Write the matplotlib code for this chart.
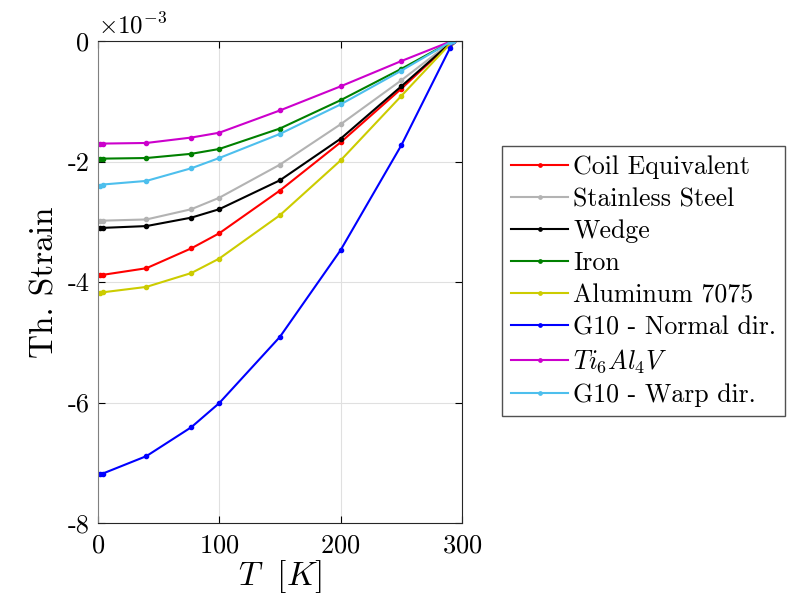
import matplotlib
matplotlib.use("Agg")
import matplotlib.pyplot as plt

plt.rcParams['font.family'] = 'serif'
plt.rcParams['font.serif'] = ['cmr10']
plt.rcParams['mathtext.fontset'] = 'cm'
plt.rcParams['axes.unicode_minus'] = False
plt.rcParams['axes.formatter.use_mathtext'] = True

# temperatura (K)
T = [2, 4, 40, 77, 100, 150, 200, 250, 290, 293]

# deformacao termica (x 1e-3)
coil = [-3.89, -3.88, -3.77, -3.44, -3.19, -2.48, -1.68, -0.79, -0.04, 0.0]
inox = [-2.99, -2.98, -2.96, -2.79, -2.60, -2.05, -1.38, -0.65, -0.03, 0.0]
wedge = [-3.11, -3.10, -3.07, -2.93, -2.79, -2.31, -1.62, -0.75, -0.04, 0.0]
ferro = [-1.95, -1.95, -1.94, -1.87, -1.79, -1.45, -0.98, -0.46, -0.02, 0.0]
alu = [-4.18, -4.17, -4.08, -3.85, -3.61, -2.89, -1.98, -0.91, -0.05, 0.0]
g10n = [-7.18, -7.18, -6.89, -6.41, -6.01, -4.91, -3.47, -1.73, -0.12, 0.0]
titanio = [-1.71, -1.70, -1.69, -1.60, -1.52, -1.15, -0.75, -0.33, -0.01, 0.0]
g10w = [-2.40, -2.38, -2.32, -2.11, -1.94, -1.54, -1.05, -0.49, -0.02, 0.0]

series = [
    (coil, 'Coil Equivalent', (1, 0, 0)),
    (inox, 'Stainless Steel', (0.7, 0.7, 0.7)),
    (wedge, 'Wedge', (0, 0, 0)),
    (ferro, 'Iron', (0, 0.5, 0)),
    (alu, 'Aluminum 7075', (0.8, 0.8, 0)),
    (g10n, 'G10 - Normal dir.', (0, 0, 1)),
    (titanio, r'$Ti_6Al_4V$', (0.8, 0, 0.8)),
    (g10w, 'G10 - Warp dir.', (0.3, 0.75, 0.93)),
]

fig = plt.figure(figsize=(8.02, 5.97), dpi=100)
ax = fig.add_axes([0.122, 0.124, 0.454, 0.807])

for dados, nome, cor in series:
    ax.plot(T, dados, '.-', color=cor, label=nome, linewidth=1.5, markersize=6)

ax.set_xlim(0, 300)
ax.set_ylim(-8, 0)
ax.set_xticks([0, 100, 200, 300])
ax.set_yticks([-8, -6, -4, -2, 0])
ax.set_yticklabels(['-8', '-6', '-4', '-2', '0'])
ax.grid(True, color=(0.88, 0.88, 0.88), linewidth=0.8)
ax.set_axisbelow(True)
ax.tick_params(direction='in', top=True, right=True, labelsize=19, length=5)
ax.tick_params(axis='x', pad=8)
ax.tick_params(axis='y', pad=6)
for s in ax.spines.values():
    s.set_color((0.15, 0.15, 0.15))
    s.set_linewidth(0.8)
ax.spines['left'].set_color((0.5, 0.5, 0.5))

ax.set_xlabel(r'$T\ \ [K]$', fontsize=24, labelpad=0)
ax.set_ylabel('Th. Strain', fontsize=24, labelpad=6)
ax.text(0.0, 1.005, r'$\times 10^{-3}$', transform=ax.transAxes,
        fontsize=18, ha='left', va='bottom')

fig.legend(loc='center left', bbox_to_anchor=(0.626, 0.529), fontsize=18.6,
           frameon=True, fancybox=False, edgecolor=(0.15, 0.15, 0.15),
           handlelength=2.2, handletextpad=0.2, labelspacing=0.32,
           borderpad=0.35, borderaxespad=0, markerscale=0.8)

plt.savefig('out.png', dpi=100)
